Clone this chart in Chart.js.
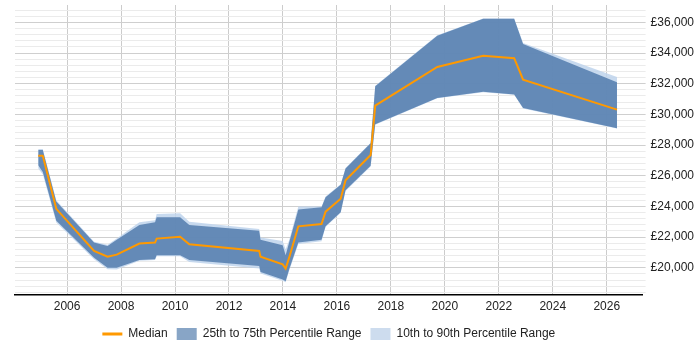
<!DOCTYPE html>
<html>
<head>
<meta charset="utf-8">
<script src="https://cdn.jsdelivr.net/npm/chart.js@4"></script>
<style>
    html, body { margin: 0; padding: 0; background: #fff; }
    #wrap { width: 700px; height: 350px; position: relative; }
</style>
</head>
<body>
<div id="wrap"><canvas id="salaryChart"></canvas></div>
<script>
// sample dates (decimal years)
const years = [2004.93, 2005.1, 2005.6, 2007.0, 2007.5, 2007.84, 2008.68, 2009.26, 2009.32, 2010.19,
    2010.53, 2013.12, 2013.17, 2013.99, 2014.1, 2014.23, 2014.57, 2015.43, 2015.58, 2016.14,
    2016.32, 2017.25, 2017.42, 2019.72, 2021.42, 2022.57, 2022.9, 2026.38];
const p10 = [26470, 26100, 22950, 20560, 19900, 19890, 20450, 20500, 20750, 20750,
    20370, 19950, 19625, 19150, 19050, 19800, 21550, 21720, 22650, 23580,
    25000, 26600, 29330, 31050, 31450, 31280, 30390, 29080];
const p25 = [26690, 26250, 23070, 20660, 20000, 20000, 20500, 20550, 20810, 20810,
    20500, 20110, 19720, 19230, 19125, 19890, 21645, 21820, 22700, 23620,
    25045, 26645, 29360, 31070, 31470, 31300, 30410, 29100];
const median = [27300, 27300, 23840, 21100, 20720, 20855, 21580, 21645, 21900, 22020,
    21530, 21100, 20720, 20217, 19950, 20658, 22700, 22850, 23660, 24500,
    25700, 27350, 30570, 33090, 33816, 33660, 32260, 30310];
const p75 = [27680, 27680, 24320, 21645, 21425, 21820, 22780, 22960, 23290, 23290,
    22780, 22410, 21820, 21470, 20810, 21645, 23800, 23950, 24600, 25410,
    26470, 28110, 31840, 35130, 36230, 36230, 34580, 32100];
const p90 = [27750, 27750, 24400, 21700, 21500, 21900, 22960, 23100, 23500, 23550,
    23000, 22520, 21970, 21750, 21200, 21800, 24000, 24000, 24650, 25450,
    26500, 28150, 31860, 35150, 36250, 36250, 34650, 32430];

const xTicks = [2006, 2008, 2010, 2012, 2014, 2016, 2018, 2020, 2022, 2024, 2026];
const yMin = 18250;
const yMax = 37130;

const toPoints = arr => arr.map((v, i) => ({ x: years[i], y: v }));

// keep the legend centred under the plot area rather than the whole canvas
const legendUnderPlot = {
    id: 'legendUnderPlot',
    afterLayout(chart) {
        if (chart.legend) {
            chart.legend.left = chart.chartArea.left;
            chart.legend.right = chart.chartArea.right;
        }
    }
};

const ctx = document.getElementById('salaryChart').getContext('2d');
const salaryChart = new Chart(ctx, {
    type: 'line',
    data: {
        datasets: [
            {
                label: 'Median',
                data: toPoints(median),
                borderColor: '#ff9900',
                backgroundColor: '#ff9900',
                borderWidth: 2,
                pointRadius: 0,
                fill: false,
                tension: 0
            },
            {
                label: '25th to 75th Percentile Range',
                data: toPoints(p75),
                borderWidth: 0,
                pointRadius: 0,
                backgroundColor: 'rgba(62, 108, 162, 0.72)',
                fill: '+1'
            },
            {
                label: 'p25',
                data: toPoints(p25),
                borderWidth: 0,
                pointRadius: 0,
                fill: false
            },
            {
                label: '10th to 90th Percentile Range',
                data: toPoints(p90),
                borderWidth: 0,
                pointRadius: 0,
                backgroundColor: 'rgba(190, 212, 236, 0.85)',
                fill: '+1'
            },
            {
                label: 'p10',
                data: toPoints(p10),
                borderWidth: 0,
                pointRadius: 0,
                fill: false
            }
        ]
    },
    options: {
        responsive: true,
        maintainAspectRatio: false,
        animation: false,
        layout: {
            padding: { left: 15, right: 1, top: 5, bottom: 0 }
        },
        scales: {
            x: {
                type: 'linear',
                min: 2004.07,
                max: 2027.33,
                afterBuildTicks: axis => {
                    axis.ticks = xTicks.map(v => ({ value: v }));
                },
                grid: {
                    color: '#cccccc',
                    drawTicks: false
                },
                border: { color: '#000', width: 1.5 },
                ticks: {
                    autoSkip: false,
                    padding: 5,
                    maxRotation: 0,
                    color: '#222',
                    font: { family: 'Liberation Sans', size: 12 },
                    callback: v => String(v)
                }
            },
            y: {
                position: 'right',
                min: yMin,
                max: yMax,
                afterBuildTicks: axis => {
                    // minor lines every 400, labelled lines every 2000
                    const t = [];
                    for (let v = 18400; v <= 36800; v += 400) t.push({ value: v });
                    axis.ticks = t;
                },
                afterFit: axis => {
                    // top label is blank, so no room needed above the plot
                    axis.paddingTop = 0;
                },
                grid: {
                    color: c => (c.tick && c.tick.value % 2000 === 0) ? '#cfcfcf' : '#ebebeb',
                    tickLength: 3,
                    drawTicks: true
                },
                border: { display: false },
                ticks: {
                    autoSkip: false,
                    padding: 5,
                    color: '#222',
                    font: { family: 'Liberation Sans', size: 12 },
                    callback: v => v % 2000 === 0 ? '£' + v.toLocaleString('en-GB') : ''
                }
            }
        },
        plugins: {
            legend: {
                position: 'bottom',
                labels: {
                    usePointStyle: true,
                    pointStyleWidth: 20,
                    boxHeight: 12,
                    padding: 9,
                    color: '#222',
                    font: { family: 'Liberation Sans', size: 12 },
                    filter: item => item.text !== 'p25' && item.text !== 'p10',
                    generateLabels: chart => {
                        const labels = Chart.defaults.plugins.legend.labels.generateLabels(chart);
                        return labels.map(l => {
                            if (l.datasetIndex === 0) {
                                return Object.assign(l, { pointStyle: 'line', strokeStyle: '#ff9900', lineWidth: 3 });
                            }
                            if (l.datasetIndex === 1) {
                                return Object.assign(l, { pointStyle: 'rect', fillStyle: '#88a5c6', strokeStyle: '#88a5c6', lineWidth: 0 });
                            }
                            if (l.datasetIndex === 3) {
                                return Object.assign(l, { pointStyle: 'rect', fillStyle: '#cddcee', strokeStyle: '#cddcee', lineWidth: 0 });
                            }
                            return l;
                        });
                    }
                }
            },
            tooltip: { enabled: false }
        }
    },
    plugins: [legendUnderPlot]
});
</script>
</body>
</html>
